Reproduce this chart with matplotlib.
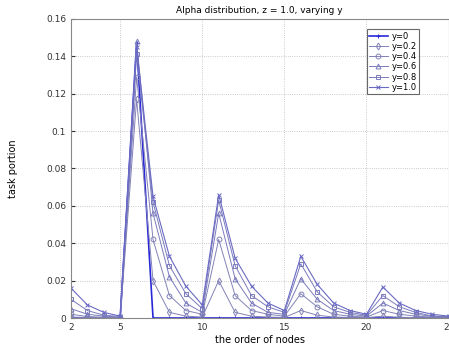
import matplotlib
matplotlib.use("Agg")
import matplotlib.pyplot as plt
import numpy as np

nodes = list(range(2, 26))

labels = ["y=0", "y=0.2", "y=0.4", "y=0.6", "y=0.8", "y=1.0"]
markers = ["+", "d", "o", "^", "s", "x"]
colors = ["#2828d8", "#8282b8", "#8282b8", "#7a7abc", "#7a7abc", "#6a6ac4"]
widths = [1.2, 0.7, 0.7, 0.7, 0.7, 0.8]

# values for nodes 2..25
s_y00 = [0, 0, 0, 0, 0.147, 0, 0, 0, 0, 0, 0, 0, 0, 0, 0, 0, 0, 0, 0, 0, 0, 0, 0, 0]
s_y02 = [0.0005, 0.0003, 0.0002, 0.0001, 0.117, 0.020, 0.003, 0.001, 0.0005, 0.020, 0.003, 0.001, 0.0005, 0.0003,
         0.004, 0.0015, 0.0005, 0.0003, 0.0002, 0.001, 0.0004, 0.0002, 0.0001, 0.0001]
s_y04 = [0.002, 0.0008, 0.0004, 0.0002, 0.129, 0.042, 0.012, 0.004, 0.002, 0.042, 0.012, 0.004, 0.002, 0.001,
         0.013, 0.006, 0.002, 0.001, 0.0005, 0.004, 0.002, 0.001, 0.0005, 0.0002]
s_y06 = [0.005, 0.002, 0.001, 0.0005, 0.148, 0.056, 0.022, 0.008, 0.003, 0.056, 0.021, 0.008, 0.003, 0.002,
         0.021, 0.010, 0.004, 0.002, 0.001, 0.008, 0.004, 0.002, 0.001, 0.0005]
s_y08 = [0.010, 0.004, 0.0015, 0.0008, 0.141, 0.062, 0.028, 0.013, 0.005, 0.063, 0.028, 0.012, 0.006, 0.003,
         0.029, 0.014, 0.006, 0.003, 0.0015, 0.012, 0.006, 0.003, 0.001, 0.0007]
s_y10 = [0.016, 0.007, 0.003, 0.001, 0.145, 0.065, 0.033, 0.017, 0.007, 0.066, 0.032, 0.017, 0.008, 0.004,
         0.033, 0.018, 0.008, 0.004, 0.002, 0.0166, 0.008, 0.004, 0.002, 0.001]

series = [s_y00, s_y02, s_y04, s_y06, s_y08, s_y10]

x_ticks = [2, 5, 10, 15, 20, 25]
y_ticks = [0, 0.02, 0.04, 0.06, 0.08, 0.1, 0.12, 0.14, 0.16]
y_tick_labels = ["0", "0.02", "0.04", "0.06", "0.08", "0.1", "0.12", "0.14", "0.16"]

fig = plt.figure(figsize=(4.49, 3.5), dpi=100)
ax = fig.add_axes([0.158, 0.0914, 0.841, 0.8546])

for vals, lab, mk, col, lw in zip(series, labels, markers, colors, widths):
    ax.plot(nodes, vals, marker=mk, color=col, lw=lw, ms=3.5,
            markerfacecolor="none", markeredgewidth=0.7, label=lab)

ax.set_xlim(2, 25)
ax.set_ylim(0, 0.16)
ax.set_xticks(x_ticks)
ax.set_yticks(y_ticks)
ax.set_yticklabels(y_tick_labels)
ax.tick_params(direction="in", labelsize=6.5, length=3, colors="#333333")
ax.grid(True, linestyle=":", color="#bbbbbb", lw=0.6)
for sp in ax.spines.values():
    sp.set_color("#888888")
    sp.set_linewidth(0.8)

ax.set_title("Alpha distribution, z = 1.0, varying y", fontsize=6.5, pad=4)
ax.set_xlabel("the order of nodes", fontsize=7, labelpad=2)
ax.set_ylabel("task portion", fontsize=7, labelpad=20)

leg = ax.legend(loc="upper right", bbox_to_anchor=(0.934, 0.98), fontsize=6,
                frameon=True, fancybox=False, handlelength=2.2, handletextpad=0.5,
                borderpad=0.3, labelspacing=0.15)
leg.get_frame().set_edgecolor("#444444")
leg.get_frame().set_linewidth(0.8)

fig.savefig("out.png", dpi=100)
